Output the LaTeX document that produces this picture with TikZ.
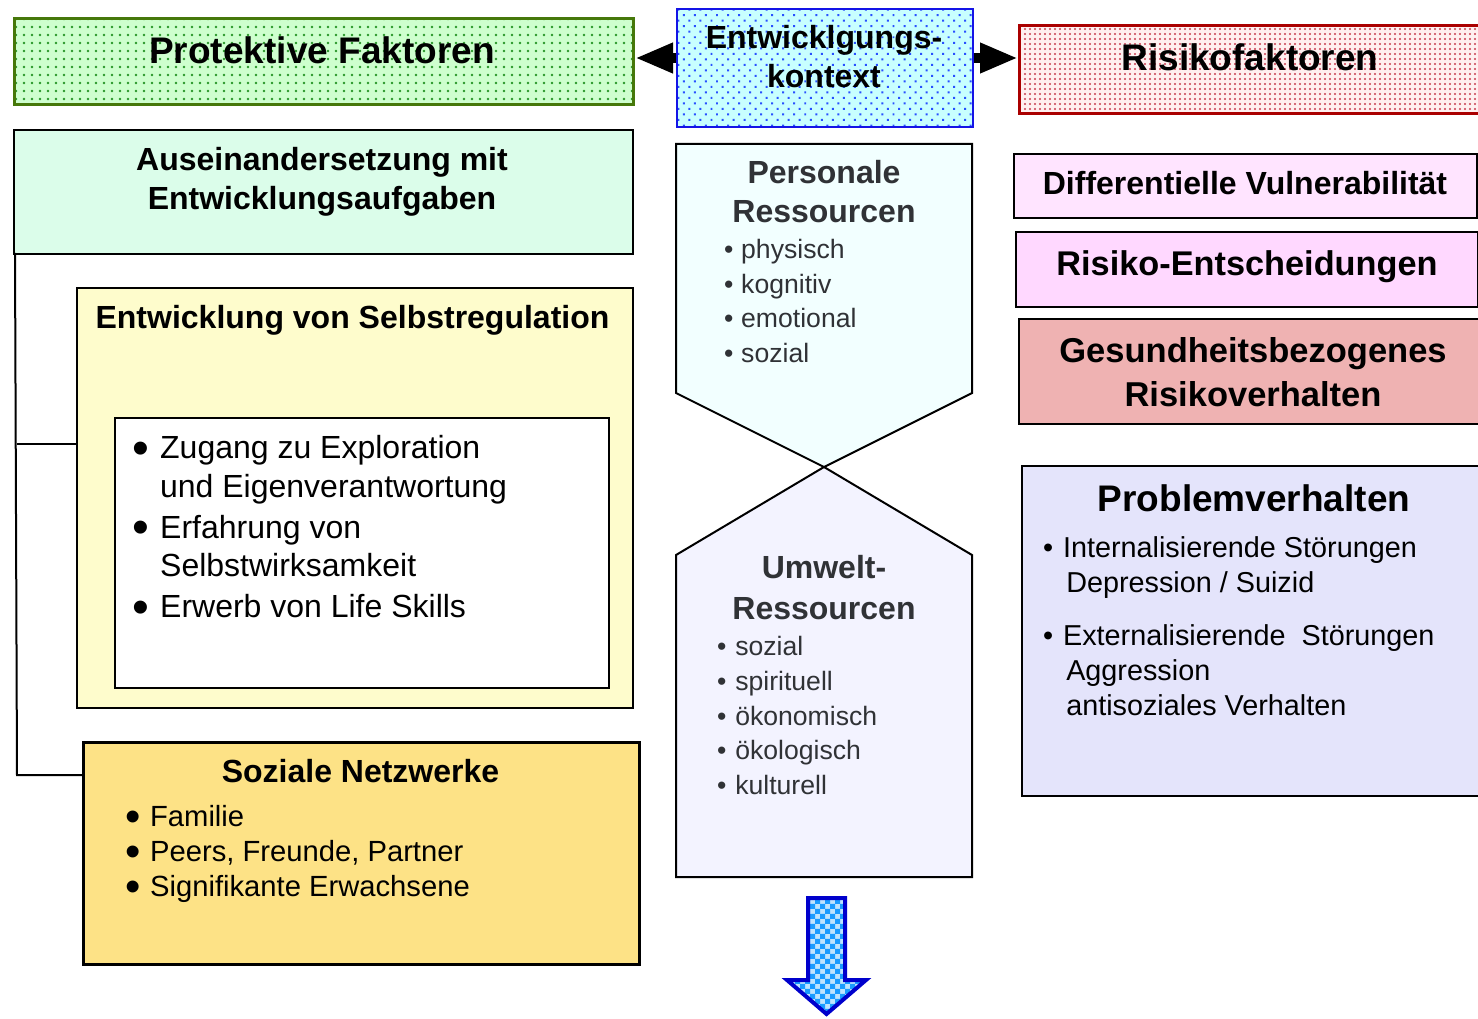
\documentclass[tikz,border=0pt]{standalone}
\usepackage{fontspec}
\setmainfont{Liberation Sans}
\usetikzlibrary{arrows.meta, patterns.meta}

\definecolor{protFill}{RGB}{206,255,206}
\definecolor{protDots}{RGB}{40,150,40}
\definecolor{protLine}{RGB}{70,120,10}
\definecolor{ctxFill}{RGB}{200,255,255}
\definecolor{ctxDots}{RGB}{40,80,255}
\definecolor{ctxLine}{RGB}{20,20,230}
\definecolor{riskFill}{RGB}{255,240,240}
\definecolor{riskDots}{RGB}{200,60,80}
\definecolor{riskLine}{RGB}{170,0,0}
\definecolor{auseinFill}{RGB}{219,253,234}
\definecolor{selbstFill}{RGB}{254,252,204}
\definecolor{sozialFill}{RGB}{253,226,134}
\definecolor{persFill}{RGB}{242,255,255}
\definecolor{umweltFill}{RGB}{243,243,255}
\definecolor{midText}{RGB}{48,50,54}
\definecolor{vulnFill}{RGB}{255,228,255}
\definecolor{entschFill}{RGB}{255,216,255}
\definecolor{gesundFill}{RGB}{239,178,178}
\definecolor{problemFill}{RGB}{228,228,251}
\definecolor{pfeilFill}{RGB}{190,228,255}
\definecolor{pfeilDots}{RGB}{25,155,255}
\definecolor{pfeilLine}{RGB}{0,0,204}

\pgfdeclarepatternformonly{checker}{\pgfqpoint{-.1pt}{-.1pt}}{\pgfqpoint{10.1pt}{10.1pt}}{\pgfqpoint{10pt}{10pt}}{%
  \pgfpathrectangle{\pgfpointorigin}{\pgfqpoint{5.1pt}{5.1pt}}%
  \pgfpathrectangle{\pgfqpoint{5pt}{5pt}}{\pgfqpoint{5.1pt}{5.1pt}}%
  \pgfusepath{fill}}

\newcommand{\bul}[1]{\makebox[#1][l]{\textbullet}}
\newcommand{\bigbul}[1]{\makebox[#1][l]{\hspace{-0.08em}\smash{\raisebox{-0.18em}{\scalebox{1.5}{\textbullet}}}}}

\tikzset{
    box/.style={draw, line width=2pt, rectangle, inner sep=0pt, anchor=north west},
    ttl/.style={font=\fontsize{32}{39}\selectfont\bfseries, inner sep=0pt, align=center, anchor=base},
    ttlbig/.style={font=\fontsize{37}{44}\selectfont\bfseries, inner sep=0pt, anchor=base},
    lst/.style={inner sep=0pt, align=left, anchor=base west},
    link/.style={line width=2pt},
    bigarrow/.style={line width=10pt, -{Triangle[length=38pt, width=28pt]}},
}

\begin{document}
\begin{tikzpicture}[x=1pt, y=-1pt]
    \useasboundingbox (0,0) rectangle (1478,1019);

    % top row
    \node[box, draw=protLine, line width=3pt, preaction={fill=protFill},
          pattern={Dots[distance=8pt, radius=1.4pt]}, pattern color=protDots,
          minimum width=619pt, minimum height=86pt] (protekt) at (13,17) {};
    \node[ttlbig] (protekt-txt) at (322,64) {Protektive Faktoren};

    \node[box, draw=ctxLine, preaction={fill=ctxFill},
          pattern={Dots[distance=7.8pt, angle=45, radius=1.4pt]}, pattern color=ctxDots,
          minimum width=296pt, minimum height=118pt] (kontext) at (676,8) {};
    \node[ttl] (kontext-txt) at (824,87.5) {Entwicklgungs-\\kontext};

    \node[box, draw=riskLine, line width=3pt, preaction={fill=riskFill},
          pattern={Dots[distance=5pt, radius=1.1pt]}, pattern color=riskDots,
          minimum width=470pt, minimum height=88pt] (risiko) at (1018,24) {};
    \node[ttlbig] (risiko-txt) at (1250,71) {Risikofaktoren};

    \coordinate (arr-y) at (0,58);
    \draw[bigarrow] (kontext.west |- arr-y) -- (protekt.east |- arr-y);
    \draw[bigarrow] (kontext.east |- arr-y) -- (risiko.west |- arr-y);

    % left column
    \node[box, fill=auseinFill, minimum width=619pt, minimum height=124pt] (ausein) at (13,129) {};
    \node[ttl] (ausein-txt) at (322,209.5) {Auseinandersetzung mit\\Entwicklungsaufgaben};

    \node[box, fill=selbstFill, minimum width=556pt, minimum height=420pt] (selbst) at (76,287) {};
    \node[ttl] (selbst-txt) at (352.5,328.5) {Entwicklung von Selbstregulation};
    \node[box, line width=1.5pt, fill=white, minimum width=494pt, minimum height=270pt] (selbst-in) at (114,417) {};
    \node[lst, font=\fontsize{32}{38.5}\selectfont] (selbst-lst) at (135,617.5)
        {\bigbul{0.78em}Zugang zu Exploration\\[0pt]
         \hspace*{0.78em}und Eigenverantwortung\\[2.5pt]
         \bigbul{0.78em}Erfahrung von\\[0pt]
         \hspace*{0.78em}Selbstwirksamkeit\\[2.5pt]
         \bigbul{0.78em}Erwerb von Life Skills};

    \node[box, line width=3pt, fill=sozialFill, minimum width=556pt, minimum height=222pt] (sozial) at (82,741) {};
    \node[ttl] (sozial-txt) at (360.5,782.5) {Soziale Netzwerke};
    \node[lst, font=\fontsize{29.2}{35}\selectfont] (sozial-lst) at (128,896.5)
        {\bigbul{0.75em}Familie\\
         \bigbul{0.75em}Peers, Freunde, Partner\\
         \bigbul{0.75em}Signifikante Erwachsene};

    \coordinate (br-top) at (15,253);
    \coordinate (br-mid) at (17,444);
    \coordinate (br-bot) at (17,775);
    \draw[link] (br-top) -- (br-bot) -- (br-bot -| sozial.west);
    \draw[link] (br-mid) -- (br-mid -| selbst.west);

    % middle column
    \coordinate (xing) at (824,467);
    \draw[link, fill=persFill] (xing) -- (972,393) -- (972,144) -- (676,144) -- (676,393) -- cycle;
    \draw[link, fill=umweltFill] (xing) -- (972,555) -- (972,877) -- (676,877) -- (676,555) -- cycle;

    \node[ttl, text=midText] (pers-txt) at (824,222.5) {Personale\\Ressourcen};
    \node[lst, text=midText, font=\fontsize{26.6}{34.7}\selectfont] (pers-lst) at (724,362.5)
        {\bul{0.64em}physisch\\
         \bul{0.64em}kognitiv\\
         \bul{0.64em}emotional\\
         \bul{0.64em}sozial};

    \node[ttl, text=midText, font=\fontsize{32}{41}\selectfont\bfseries] (umwelt-txt) at (824,619.5) {Umwelt-\\Ressourcen};
    \node[lst, text=midText, font=\fontsize{26.6}{34.75}\selectfont] (umwelt-lst) at (717,794.5)
        {\bul{0.68em}sozial\\
         \bul{0.68em}spirituell\\
         \bul{0.68em}ökonomisch\\
         \bul{0.68em}ökologisch\\
         \bul{0.68em}kulturell};

    \draw[line width=4pt, draw=pfeilLine, preaction={fill=pfeilFill}, pattern=checker, pattern color=pfeilDots]
        (808,898) -- (845,898) -- (845,980) -- (866,980) -- (826.5,1014) -- (787,980) -- (808,980) -- cycle;

    % right column
    \node[box, fill=vulnFill, minimum width=463pt, minimum height=64pt] (vuln) at (1013,153) {};
    \node[ttl] (vuln-txt) at (1245,194.5) {Differentielle Vulnerabilität};

    \node[box, fill=entschFill, minimum width=462pt, minimum height=75pt] (entsch) at (1015,231) {};
    \node[ttl, font=\fontsize{34.3}{40}\selectfont\bfseries] (entsch-txt) at (1247,276) {Risiko-Entscheidungen};

    \node[box, fill=gesundFill, minimum width=470pt, minimum height=105pt] (gesund) at (1018,318) {};
    \node[ttl, font=\fontsize{34.5}{44}\selectfont\bfseries] (gesund-txt) at (1253,406) {Gesundheitsbezogenes\\Risikoverhalten};

    \node[box, fill=problemFill, minimum width=470pt, minimum height=330pt] (problem) at (1021,465) {};
    \node[ttlbig] (problem-txt) at (1254,511) {Problemverhalten};
    \node[lst, font=\fontsize{28.8}{35}\selectfont] (problem-lst) at (1043,715.5)
        {\bul{0.69em}Internalisierende Störungen\\
         \hspace*{0.8em}Depression / Suizid\\[18pt]
         \bul{0.69em}Externalisierende\ \ Störungen\\
         \hspace*{0.8em}Aggression\\
         \hspace*{0.8em}antisoziales Verhalten};
\end{tikzpicture}
\end{document}
